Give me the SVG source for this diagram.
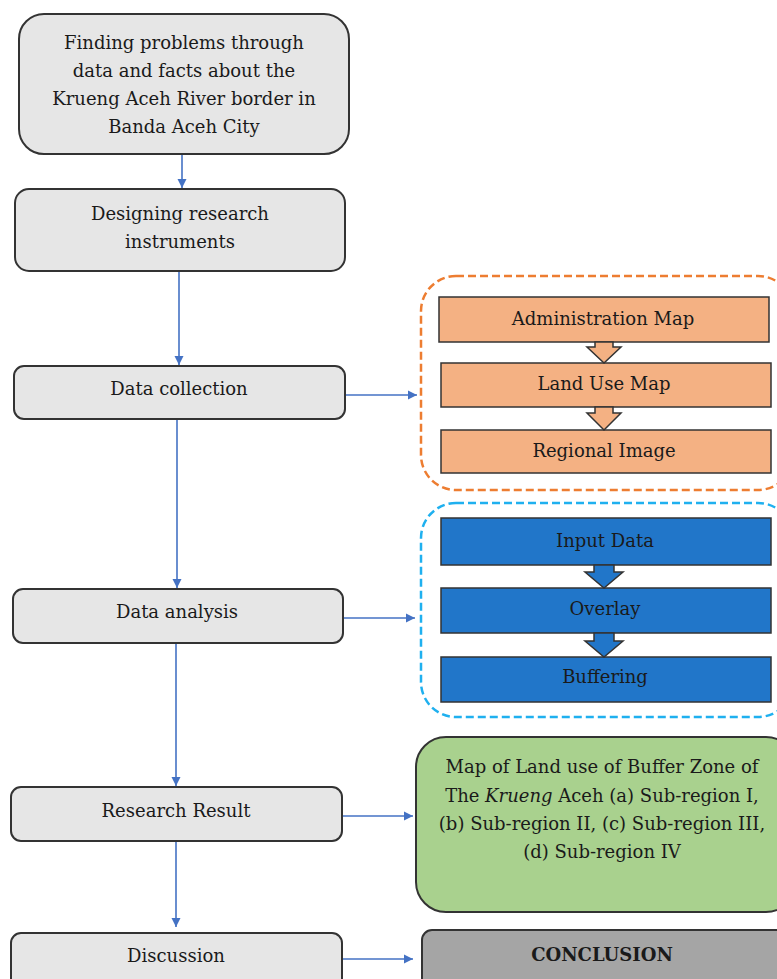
<svg xmlns="http://www.w3.org/2000/svg" width="777" height="979" viewBox="0 0 777 979">
<style>
.step{fill:#e6e6e6;stroke:#333;stroke-width:2}
.t{font-family:"DejaVu Serif","Liberation Serif",serif;font-size:18px;fill:#1a1a1a;text-anchor:middle}
.or{fill:#f4b183;stroke:#333;stroke-width:1.5}
.bl{fill:#2176c9;stroke:#333;stroke-width:1.5}
.conn{stroke:#4472c4;stroke-width:1.6;fill:none}
</style>
<defs>
<marker id="ah" markerWidth="10" markerHeight="10" refX="9" refY="5" orient="auto" markerUnits="userSpaceOnUse">
<path d="M0,0.5 L9,5 L0,9.5 Z" fill="#4472c4"/>
</marker>
</defs>
<rect width="777" height="979" fill="#fff"/>

<g id="containers">
<rect id="data-group" x="421" y="276" width="372" height="214" rx="35" fill="none" stroke="#ed7d31" stroke-width="2.5" stroke-dasharray="8,4"/>
<rect id="analysis-group" x="421" y="503" width="372" height="214" rx="35" fill="none" stroke="#1fb0ef" stroke-width="2.5" stroke-dasharray="8,4"/>
</g>

<g id="connectors">
<line class="conn" x1="182" y1="154" x2="182" y2="188" marker-end="url(#ah)"/>
<line class="conn" x1="179" y1="271" x2="179" y2="365" marker-end="url(#ah)"/>
<line class="conn" x1="177" y1="419" x2="177" y2="588" marker-end="url(#ah)"/>
<line class="conn" x1="176" y1="643" x2="176" y2="786" marker-end="url(#ah)"/>
<line class="conn" x1="176" y1="841" x2="176" y2="927" marker-end="url(#ah)"/>
<line class="conn" x1="346" y1="395" x2="417" y2="395" marker-end="url(#ah)"/>
<line class="conn" x1="344" y1="618" x2="415" y2="618" marker-end="url(#ah)"/>
<line class="conn" x1="343" y1="816" x2="413" y2="816" marker-end="url(#ah)"/>
<line class="conn" x1="343" y1="959" x2="413" y2="959" marker-end="url(#ah)"/>
</g>

<g id="n1">
<rect class="step" x="19" y="14" width="330" height="140" rx="25"/>
<text class="t" x="184" y="49">Finding problems through</text>
<text class="t" x="184" y="77">data and facts about the</text>
<text class="t" x="184" y="105">Krueng Aceh River border in</text>
<text class="t" x="184" y="133">Banda Aceh City</text>
</g>
<g id="n2">
<rect class="step" x="15" y="189" width="330" height="82" rx="14"/>
<text class="t" x="180" y="220">Designing research</text>
<text class="t" x="180" y="248">instruments</text>
</g>
<g id="n3">
<rect class="step" x="14" y="366" width="331" height="53" rx="10"/>
<text class="t" x="179" y="395">Data collection</text>
</g>
<g id="n4">
<rect class="step" x="13" y="589" width="330" height="54" rx="10"/>
<text class="t" x="177" y="618">Data analysis</text>
</g>
<g id="n5">
<rect class="step" x="11" y="787" width="331" height="54" rx="10"/>
<text class="t" x="176" y="817">Research Result</text>
</g>
<g id="n6">
<rect class="step" x="11" y="933" width="331" height="60" rx="10"/>
<text class="t" x="176" y="962">Discussion</text>
</g>

<g id="admin-map">
<rect class="or" x="439" y="297" width="330" height="45"/>
<text class="t" x="603" y="325">Administration Map</text>
</g>
<g id="land-use-map">
<rect class="or" x="441" y="363" width="330" height="44"/>
<text class="t" x="604" y="390">Land Use Map</text>
</g>
<g id="regional-image">
<rect class="or" x="441" y="430" width="330" height="43"/>
<text class="t" x="604" y="457">Regional Image</text>
</g>
<g id="block-arrows-orange">
<path class="or" d="M595,342 L613,342 L613,347 L621,347 L604,363 L587,347 L595,347 Z"/>
<path class="or" d="M595,407 L613,407 L613,413 L621,413 L604,430 L587,413 L595,413 Z"/>
</g>

<g id="input-data">
<rect class="bl" x="441" y="518" width="330" height="47"/>
<text class="t" x="605" y="547">Input Data</text>
</g>
<g id="overlay">
<rect class="bl" x="441" y="588" width="330" height="45"/>
<text class="t" x="605" y="615">Overlay</text>
</g>
<g id="buffering">
<rect class="bl" x="441" y="657" width="330" height="45"/>
<text class="t" x="605" y="683">Buffering</text>
</g>
<g id="block-arrows-blue">
<path class="bl" d="M594,565 L614,565 L614,572 L623,572 L604,588 L585,572 L594,572 Z"/>
<path class="bl" d="M594,633 L614,633 L614,641 L623,641 L604,657 L585,641 L594,641 Z"/>
</g>

<g id="result-map">
<rect x="416" y="737" width="380" height="175" rx="30" fill="#a9d18e" stroke="#333" stroke-width="2"/>
<text class="t" x="602" y="773">Map of Land use of Buffer Zone of</text>
<text class="t" x="602" y="802">The <tspan font-style="italic">Krueng</tspan> Aceh (a) Sub-region I,</text>
<text class="t" x="602" y="830">(b) Sub-region II, (c) Sub-region III,</text>
<text class="t" x="602" y="858">(d) Sub-region IV</text>
</g>
<g id="conclusion">
<rect x="422" y="930" width="380" height="70" rx="10" fill="#a5a5a5" stroke="#333" stroke-width="2"/>
<text class="t" x="602" y="961" font-weight="bold" font-size="19">CONCLUSION</text>
</g>
</svg>
